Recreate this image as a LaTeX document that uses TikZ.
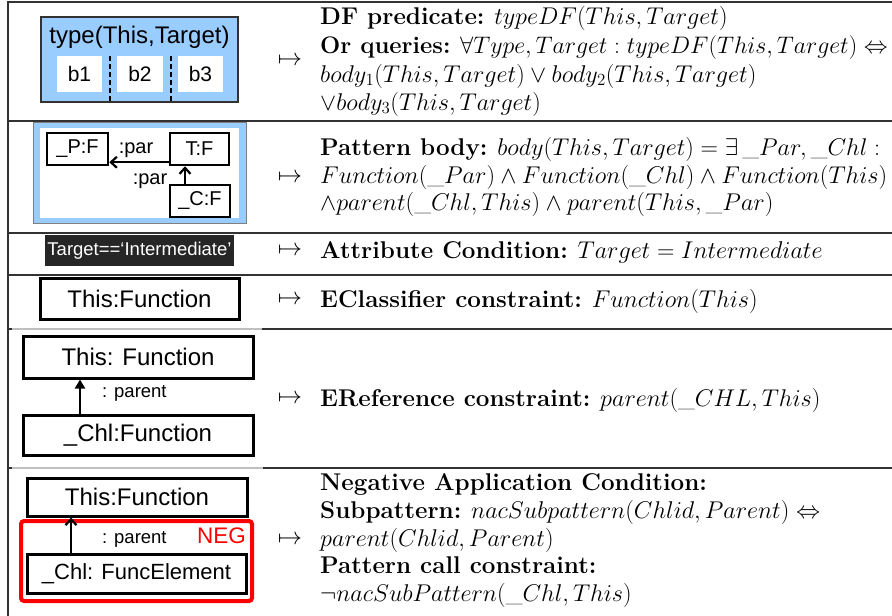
\RequirePackage{fix-cm}
\documentclass[tikz,border=0pt]{standalone}
\usepackage{fontspec}
\newfontfamily\arial{Liberation Sans}
\usetikzlibrary{arrows.meta}
\definecolor{paleblue}{RGB}{153,204,255}
\definecolor{darkbg}{RGB}{38,38,38}
\definecolor{rulegray}{RGB}{50,50,50}
\definecolor{negred}{RGB}{255,0,0}

\tikzset{
  tblrule/.style={draw=rulegray, line width=1.3pt},
  softrule/.style={draw=black!25, line width=1.3pt},
  rtext/.style={anchor=base west, inner sep=0pt, font=\fontsize{24.2}{28}\selectfont},
  maparrow/.style={anchor=center, inner sep=0pt, font=\fontsize{24.2}{28}\selectfont},
  objbox/.style={draw=black, line width=3pt, fill=white, inner sep=0pt,
                 font=\arial\fontsize{24}{24}\selectfont},
  smallbox/.style={draw=black, line width=2.5pt, fill=white, inner sep=0pt,
                 font=\arial\fontsize{20}{20}\selectfont},
  lbl/.style={inner sep=0pt, font=\arial\fontsize{18.5}{18.5}\selectfont},
  edgeopen/.style={line width=2.2pt, -{Straight Barb[length=6pt,width=11pt,line width=2.2pt]}},
  edgefill/.style={line width=2.2pt, -{Triangle[length=9pt,width=10pt]}},
}

\begin{document}
\begin{tikzpicture}[x=1pt,y=-1pt]
\useasboundingbox (0,0) rectangle (892,616);

% ---- table rules ----
\draw[tblrule] (8,616) -- (8,2) -- (892,2);
\foreach \yy in {121,233,275,329,468} \draw[tblrule] (8,\yy) -- (892,\yy);
\draw[softrule] (12,329) -- (262,329);
\draw[softrule] (12,468) -- (263,468);

% ---- row 1: disjunctive pattern ----
\node[draw=rulegray, line width=1.2pt, fill=paleblue, minimum width=197pt, minimum height=85pt, inner sep=0pt] (typebox) at (139.5,59.5) {};
\node[inner sep=0pt, font=\arial\fontsize{24}{24}\selectfont] (typetitle) at (139.5,37) {type(This,Target)};
\node[fill=white, minimum width=45pt, minimum height=36pt, inner sep=0pt, font=\arial\fontsize{21}{21}\selectfont] (b1) at (79.5,74) {b1};
\node[fill=white, minimum width=46pt, minimum height=36pt, inner sep=0pt, font=\arial\fontsize{21}{21}\selectfont] (b2) at (140,74) {b2};
\node[fill=white, minimum width=45pt, minimum height=36pt, inner sep=0pt, font=\arial\fontsize{21}{21}\selectfont] (b3) at (200.5,74) {b3};
\draw[line width=2pt, dash pattern=on 5pt off 3pt] (110,56) -- (110,102);
\draw[line width=2pt, dash pattern=on 5pt off 3pt] (171,56) -- (171,102);

% ---- row 2: pattern body ----
\node[draw=black!50, line width=1pt, fill=paleblue, minimum width=213pt, minimum height=101pt, inner sep=0pt] (bodyframe) at (139.5,172.5) {};
\node[fill=white, minimum width=199pt, minimum height=90pt, inner sep=0pt] (bodyinner) at (139.5,172.5) {};
\node[smallbox, minimum width=61pt, minimum height=32pt] (pnode) at (77.5,149) {\_P:F};
\node[smallbox, minimum width=59pt, minimum height=32pt] (tnode) at (199.5,149) {T:F};
\node[smallbox, minimum width=60pt, minimum height=32pt] (cnode) at (200,201) {\_C:F};
\draw[edgeopen] ([yshift=4pt]tnode.south west) -- ([yshift=4pt]pnode.south east);
\coordinate (cx) at (185,0);
\draw[edgeopen] (cnode.north -| cx) -- (tnode.south -| cx);
\node[lbl, font=\arial\fontsize{20}{20}\selectfont] (parlbl1) at (136,150) {:par};
\node[lbl, font=\arial\fontsize{20}{20}\selectfont] (parlbl2) at (150,181) {:par};

% ---- row 3: attribute condition ----
\node[fill=darkbg, text=white, minimum width=189pt, minimum height=31pt, inner sep=0pt, font=\arial\fontsize{18.5}{18.5}\selectfont] (cond) at (139.5,250.5) {Target==‘Intermediate’};

% ---- row 4: classifier ----
\node[objbox, minimum width=199pt, minimum height=41pt] (thisfn) at (139.5,298.5) {This:Function};

% ---- row 5: reference ----
\node[objbox, minimum width=230pt, minimum height=42pt] (this5) at (138,357) {This: Function};
\node[objbox, minimum width=230pt, minimum height=40pt] (chl5) at (138,435) {\_Chl:Function};
\coordinate (ax5) at (80,0);
\draw[edgefill] (chl5.north -| ax5) -- (this5.south -| ax5);
\node[lbl, anchor=west] (parent5) at (102,393) {: parent};

% ---- row 6: negative application condition ----
\node[objbox, minimum width=220pt, minimum height=38pt] (this6) at (137,497) {This:Function};
\node[draw=negred, line width=4pt, rounded corners=3pt, minimum width=231pt, minimum height=80pt, inner sep=0pt] (negframe) at (136.5,561) {};
\node[objbox, minimum width=219pt, minimum height=39pt, font=\arial\fontsize{22}{22}\selectfont] (chl6) at (136.5,573.5) {\_Chl: FuncElement};
\coordinate (ax6) at (71,0);
\draw[edgeopen] (chl6.north -| ax6) -- (this6.south -| ax6);
\node[lbl, anchor=west] (parent6) at (102,539) {: parent};
\node[inner sep=0pt, anchor=east, text=negred, font=\arial\fontsize{22.5}{22.5}\selectfont] (neg) at (246,536) {NEG};

% ---- right column: logical meaning ----
\node[maparrow] (m1) at (290,61) {$\mapsto$};
\node[rtext] (r1a) at (320,24) {\textbf{DF predicate:} $typeDF(This, Target)$};
\node[rtext, font=\fontsize{23.9}{28}\selectfont] (r1b) at (320,53) {\textbf{Or queries:} $\forall Type, Target : typeDF(This, Target) \Leftrightarrow$};
\node[rtext] (r1c) at (320,82) {$body_1(This, Target) \vee body_2(This, Target)$};
\node[rtext] (r1d) at (320,110) {$\vee body_3(This, Target)$};

\node[maparrow] (m2) at (290,178) {$\mapsto$};
\node[rtext] (r2a) at (320,155) {\textbf{Pattern body:} $body(This, Target) = \exists\,\_Par, \_Chl :$};
\node[rtext] (r2b) at (320,183) {$Function(\_Par) \wedge Function(\_Chl) \wedge Function(This)$};
\node[rtext] (r2c) at (320,210) {$\wedge parent(\_Chl, This) \wedge parent(This, \_Par)$};

\node[maparrow] (m3) at (290,251) {$\mapsto$};
\node[rtext] (r3) at (320,258) {\textbf{Attribute Condition:} $Target = Intermediate$};

\node[maparrow] (m4) at (290,300) {$\mapsto$};
\node[rtext] (r4) at (320,307) {\textbf{EClassifier constraint:} $Function(This)$};

\node[maparrow] (m5) at (290,399) {$\mapsto$};
\node[rtext] (r5) at (320,406) {\textbf{EReference constraint:} $parent(\_CHL, This)$};

\node[maparrow] (m6) at (290,540) {$\mapsto$};
\node[rtext] (r6a) at (320,490) {\textbf{Negative Application Condition:}};
\node[rtext] (r6b) at (320,518) {\textbf{Subpattern:} $nacSubpattern(Chlid, Parent) \Leftrightarrow$};
\node[rtext] (r6c) at (320,546) {$parent(Chlid, Parent)$};
\node[rtext] (r6d) at (320,573) {\textbf{Pattern call constraint:}};
\node[rtext] (r6e) at (320,601) {$\neg nacSubPattern(\_Chl, This)$};
\end{tikzpicture}
\end{document}
